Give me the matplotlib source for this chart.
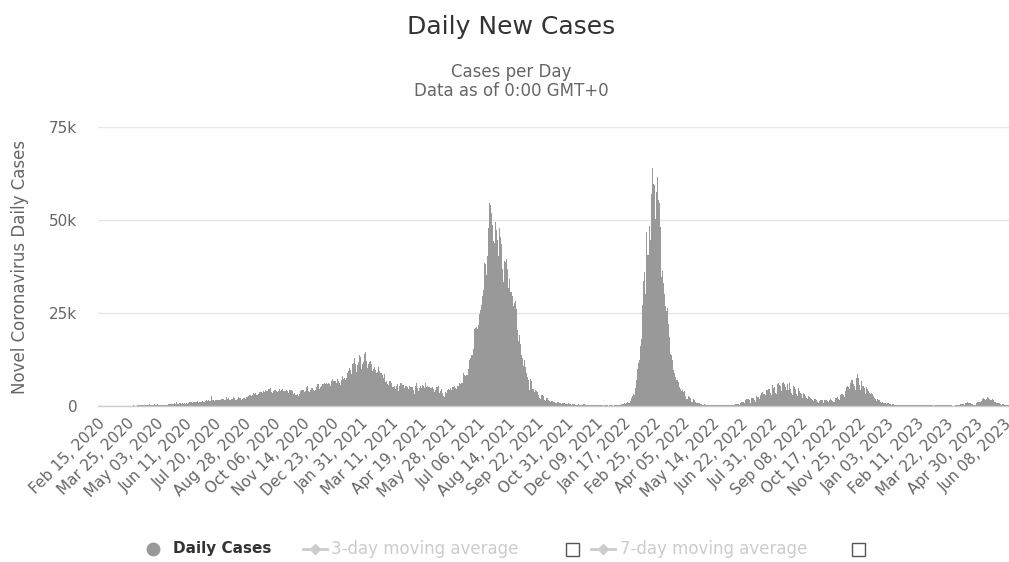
import matplotlib
matplotlib.use("Agg")
import matplotlib.pyplot as plt
import numpy as np
from matplotlib.lines import Line2D
from matplotlib.patches import Rectangle

# ---------------- data (daily new cases, thousands), categories start Feb 15, 2020 ----------------
start_date = "Feb 15, 2020"

cases_2020_k = (
    [0, 0, 0, 0, 0, 0, 0, 0, 0, 0, 0, 0, 0, 0, 0] +  # Feb 15-29
    [0, 0.002, 0, 0, 0, 0.002, 0, 0, 0.013, 0.008, 0.007, 0, 0.035, 0.027, 0.021, 0.017, 0.038, 0.055, 0.082, 0.06,
     0.081, 0.064, 0.065, 0.107, 0.104, 0.103, 0.153, 0.109, 0.13, 0.129, 0.114] +
    [0.15, 0.15, 0.2, 0.19, 0.18, 0.22, 0.25, 0.22, 0.34, 0.22, 0.33, 0.4, 0.4, 0.28, 0.3, 0.38, 0.41, 0.33, 0.33, 0.19,
     0.38, 0.28, 0.36, 0.44, 0.4, 0.28, 0.21, 0.41, 0.26, 0.35] +
    [0.43, 0.29, 0.29, 0.39, 0.48, 0.37, 0.34, 0.34, 0.53, 0.39, 0.23, 0.48, 0.69, 0.57, 0.49, 0.49, 0.49, 0.5, 0.49, 0.69,
     0.97, 0.63, 0.95, 0.53, 0.48, 0.42, 0.69, 0.69, 0.7, 0.56, 0.7] +
    [0.47, 0.47, 0.68, 0.59, 0.7, 0.99, 0.67, 0.85, 1.04, 1.24, 0.98, 1.11, 0.77, 0.85, 1.0, 1.11, 1.11, 1.33, 1.04, 1.23,
     0.86, 0.95, 1.05, 1.11, 1.18, 1.38, 1.38, 1.2, 1.08, 1.29] +
    [1.29, 1.62, 1.45, 1.49, 1.61, 1.21, 1.27, 1.85, 2.66, 1.61, 1.67, 1.68, 1.28, 1.59, 1.52, 1.57, 1.69, 1.52, 1.64, 1.69,
     1.65, 1.88, 1.91, 1.76, 1.87, 1.49, 1.53, 1.75, 2.38, 1.94, 2.04] +
    [1.56, 1.52, 1.68, 1.92, 1.82, 1.82, 2.47, 2.28, 1.89, 1.69, 1.69, 1.94, 2.1, 2.3, 2.08, 2.08, 1.82, 1.67, 1.95, 2.27,
     2.2, 2.1, 1.94, 2.5, 2.15, 2.3, 2.72, 3.0, 3.31, 2.86, 2.74] +
    [3.0, 3.08, 3.62, 3.27, 3.44, 3.44, 3.0, 3.05, 3.31, 3.86, 3.74, 3.8, 3.64, 3.14, 3.5, 3.96, 3.64, 3.89, 4.17, 4.0,
     3.99, 4.07, 4.46, 4.63, 4.82, 4.49, 3.87, 3.51, 4.0, 4.28] +
    [4.17, 4.3, 4.0, 3.99, 3.63, 4.06, 4.54, 4.85, 4.09, 4.29, 4.5, 3.27, 3.91, 4.13, 4.1, 4.3, 4.3, 4.1, 3.37, 3.6,
     4.27, 4.43, 4.37, 4.07, 3.93, 3.22, 3.52, 3.46, 3.0, 2.9, 3.14] +
    [2.7, 2.62, 3.1, 4.07, 4.06, 4.26, 4.26, 4.3, 3.88, 3.78, 3.9, 5.2, 5.44, 5.27, 4.1, 3.7, 3.8, 4.3, 4.8, 4.8,
     4.8, 4.4, 3.9, 4.2, 5.0, 5.1, 5.8, 6.0, 6.3, 4.6] +
    [5.1, 5.5, 8.37, 5.8, 6.0, 6.1, 5.8, 6.0, 6.1, 6.0, 6.4, 6.2, 5.9, 5.5, 6.1, 6.7, 7.35, 6.7, 6.3, 6.8,
     6.8, 6.3, 7.5, 7.2, 6.7, 6.2, 6.0, 5.7, 7.0, 8.0, 8.1]
)

cases_2021_k = (
    [7.2, 7.5, 6.9, 6.8, 7.4, 8.9, 9.3, 10.6, 10.1, 9.6, 8.7, 10.0, 11.3, 11.6, 12.8, 14.2, 11.3, 9.1, 11.0, 12.6,
     11.7, 13.6, 13.1, 11.8, 10.0, 11.2, 11.9, 13.7, 14.0, 14.5, 12.0] +
    [11.0, 10.2, 11.4, 11.9, 10.7, 12.2, 11.3, 9.5, 9.3, 10.0, 10.5, 9.8, 9.6, 8.9, 9.2, 10.6, 9.9, 9.4, 8.9, 9.0,
     7.9, 8.2, 7.5, 8.5, 7.0, 6.4, 6.6, 6.0] +
    [6.0, 5.7, 6.8, 6.6, 7.0, 6.3, 5.0, 5.1, 6.9, 5.4, 4.6, 5.3, 4.9, 5.8, 4.1, 5.4, 6.6, 6.3, 6.1, 5.7,
     4.9, 5.6, 4.9, 5.4, 5.6, 5.5, 5.1, 4.6, 5.0, 5.4, 5.2] +
    [5.0, 4.7, 5.1, 4.2, 3.3, 4.5, 5.3, 6.1, 4.8, 4.2, 4.1, 4.9, 5.5, 5.7, 4.9, 5.6, 5.4, 4.8, 4.8, 6.2,
     5.2, 5.6, 5.4, 5.1, 5.0, 4.0, 4.9, 4.8, 5.2, 5.4] +
    [4.5, 3.8, 4.4, 4.4, 5.1, 5.0, 5.3, 5.5, 3.6, 3.9, 4.6, 4.6, 3.4, 2.6, 2.4, 3.1, 3.7, 3.5, 4.2, 4.5,
     4.6, 4.2, 4.8, 3.6, 4.2, 5.1, 5.0, 5.4, 5.3, 4.8, 4.5] +
    [4.8, 5.3, 5.4, 6.1, 6.6, 5.8, 6.3, 6.3, 7.7, 8.9, 8.2, 8.1, 9.9, 8.2, 8.2, 9.9, 12.6, 12.3, 12.9, 13.7,
     14.5, 13.7, 15.3, 20.6, 18.9, 21.1, 21.3, 20.6, 20.5, 21.8] +
    [24.8, 25.8, 27.9, 27.2, 29.7, 31.2, 34.4, 38.4, 38.1, 35.1, 36.2, 40.4, 47.9, 54.5, 56.8, 54.0, 51.9, 48.7, 42.3, 44.3,
     43.8, 49.5, 49.1, 47.4, 44.7, 40.2, 47.2, 47.8, 45.5, 43.6, 41.3] +
    [36.7, 33.4, 38.9, 39.9, 38.8, 39.5, 36.8, 34.4, 31.7, 34.1, 30.6, 28.7, 30.6, 29.6, 26.8, 24.4, 27.7, 28.1, 26.0, 22.7,
     20.3, 17.4, 19.1, 18.7, 16.8, 13.8, 12.9, 11.7, 10.7, 12.3, 10.5] +
    [10.5, 8.8, 7.8, 7.0, 5.4, 4.4, 7.2, 6.6, 5.9, 4.7, 4.6, 3.7, 2.7, 4.2, 3.9, 3.8, 3.4, 3.0, 2.2, 1.9,
     2.7, 2.9, 3.0, 2.6, 2.3, 1.6, 1.4, 2.1, 1.9, 2.2] +
    [1.6, 1.4, 1.1, 1.0, 1.3, 1.4, 1.2, 1.1, 1.0, 0.8, 0.6, 0.9, 1.2, 1.0, 0.9, 0.75, 0.8, 0.6, 0.8, 0.9,
     0.8, 0.8, 0.7, 0.5, 0.5, 0.6, 0.7, 0.8, 0.6, 0.6, 0.4] +
    [0.4, 0.6, 0.6, 0.6, 0.5, 0.4, 0.3, 0.3, 0.4, 0.5, 0.4, 0.4, 0.4, 0.3, 0.2, 0.3, 0.45, 0.45, 0.4, 0.3,
     0.2, 0.2, 0.4, 0.45, 0.4, 0.35, 0.3, 0.2, 0.2, 0.3] +
    [0.3, 0.3, 0.25, 0.2, 0.2, 0.15, 0.2, 0.25, 0.2, 0.2, 0.2, 0.15, 0.1, 0.2, 0.2, 0.2, 0.15, 0.15, 0.15, 0.1,
     0.15, 0.2, 0.2, 0.25, 0.2, 0.15, 0.1, 0.2, 0.3, 0.3, 0.2]
)

cases_2022_k = (
    [0.17, 0.17, 0.27, 0.3, 0.4, 0.5, 0.5, 0.5, 0.53, 0.8, 0.8, 0.65, 0.8, 1.05, 1.0, 0.86, 0.77, 1.36, 1.75, 2.1,
     2.6, 3.2, 2.9, 2.9, 4.9, 7.0, 8.1, 9.9, 11.6, 12.4, 10.2] +
    [16.0, 17.9, 27.2, 32.2, 33.7, 36.1, 30.1, 37.5, 46.8, 40.6, 40.5, 55.2, 48.5, 44.5, 57.0, 64.7, 63.9, 59.6, 59.4, 55.5,
     50.4, 57.5, 61.5, 57.4, 55.4, 54.6, 48.1, 42.1] +
    [34.7, 36.4, 33.1, 31.0, 30.0, 27.0, 25.6, 30.1, 26.3, 22.0, 18.5, 16.9, 14.1, 13.7, 12.3, 11.0, 9.6, 8.8, 7.8, 7.6,
     7.0, 7.0, 6.5, 5.1, 5.0, 4.6, 3.9, 3.5, 4.4, 3.7, 3.9] +
    [3.6, 2.6, 2.0, 1.8, 2.9, 2.6, 2.5, 2.1, 1.7, 1.1, 1.0, 1.8, 1.8, 1.6, 1.1, 0.9, 0.8, 0.7, 0.9, 0.7,
     0.8, 0.5, 0.5, 0.4, 0.3, 0.3, 0.5, 0.4, 0.3, 0.2] +
    [0.16, 0.14, 0.17, 0.2, 0.3, 0.4, 0.5, 0.3, 0.25, 0.3, 0.4, 0.4, 0.3, 0.25, 0.2, 0.15, 0.25, 0.3, 0.25, 0.3,
     0.25, 0.2, 0.15, 0.25, 0.3, 0.3, 0.3, 0.25, 0.2, 0.2, 0.3] +
    [0.3, 0.4, 0.4, 0.4, 0.3, 0.3, 0.5, 0.6, 0.6, 0.6, 0.6, 0.5, 0.4, 0.9, 1.2, 1.3, 1.2, 1.1, 0.9, 0.6,
     1.5, 1.9, 2.0, 1.7, 1.9, 1.5, 0.9, 2.0, 2.2, 2.1] +
    [2.1, 2.2, 1.6, 1.2, 2.6, 2.8, 2.5, 2.4, 2.0, 1.8, 3.0, 3.4, 3.8, 3.5, 3.3, 3.3, 2.9, 4.3, 4.4, 4.3,
     4.5, 4.3, 4.5, 3.4, 3.0, 5.3, 5.7, 4.9, 5.2, 4.7, 3.6] +
    [3.1, 5.9, 6.4, 6.1, 5.6, 5.3, 4.9, 4.1, 6.3, 6.5, 6.0, 6.0, 5.2, 4.4, 3.4, 5.9, 4.4, 6.2, 5.3, 4.6,
     3.5, 2.9, 5.7, 5.5, 5.1, 4.7, 4.0, 3.2, 2.6, 4.8, 4.0] +
    [3.9, 3.5, 3.2, 2.7, 2.2, 3.5, 3.2, 2.8, 2.7, 2.2, 1.8, 1.6, 2.6, 2.5, 2.2, 2.2, 1.9, 1.7, 1.3, 1.7,
     2.0, 1.8, 1.7, 1.5, 1.2, 0.9, 1.4, 1.7, 1.6, 1.5] +
    [1.5, 1.2, 0.9, 1.5, 1.7, 1.6, 1.5, 1.3, 1.1, 0.9, 1.5, 1.8, 1.7, 1.6, 1.4, 1.1, 1.1, 1.8, 2.1, 2.1,
     2.3, 2.2, 1.8, 1.5, 2.9, 3.0, 3.2, 3.3, 3.0, 2.5, 2.3] +
    [4.0, 5.2, 5.3, 5.3, 5.0, 4.5, 4.0, 6.1, 6.9, 7.1, 6.5, 5.8, 5.4, 4.4, 6.9, 7.5, 8.5, 7.4, 6.6, 5.6,
     4.3, 6.7, 6.2, 5.4, 5.3, 4.8, 4.1, 3.2, 5.1, 4.7] +
    [4.3, 3.9, 3.6, 3.1, 2.4, 3.5, 3.3, 2.8, 2.4, 2.2, 1.8, 1.4, 2.0, 1.9, 1.6, 1.5, 1.3, 1.1, 0.8, 1.1,
     1.1, 0.9, 0.9, 0.7, 0.5, 0.6, 0.8, 0.7, 0.6, 0.5, 0.5]
)

cases_2023_k = (
    [0.4, 0.4, 0.5, 0.5, 0.4, 0.4, 0.35, 0.25, 0.3, 0.45, 0.4, 0.4, 0.35, 0.3, 0.2, 0.25, 0.35, 0.3, 0.3, 0.3,
     0.25, 0.2, 0.2, 0.3, 0.3, 0.3, 0.25, 0.2, 0.2, 0.25, 0.3] +
    [0.3, 0.25, 0.25, 0.2, 0.15, 0.2, 0.25, 0.3, 0.25, 0.2, 0.2, 0.15, 0.2, 0.25, 0.25, 0.2, 0.2, 0.15, 0.15, 0.2,
     0.2, 0.2, 0.2, 0.15, 0.15, 0.1, 0.2, 0.2] +
    [0.2, 0.2, 0.2, 0.15, 0.15, 0.2, 0.2, 0.25, 0.25, 0.2, 0.15, 0.15, 0.25, 0.2, 0.25, 0.2, 0.2, 0.15, 0.15, 0.25,
     0.25, 0.2, 0.15, 0.1, 0.1, 0.1, 0.2, 0.3, 0.3, 0.3, 0.35] +
    [0.4, 0.3, 0.5, 0.6, 0.6, 0.6, 0.5, 0.45, 0.4, 0.8, 0.9, 1.0, 1.0, 0.9, 0.8, 0.6, 0.7, 0.6, 0.5, 0.4,
     0.3, 0.3, 0.2, 0.5, 0.9, 1.0, 1.2, 1.3, 1.2, 1.0] +
    [1.4, 1.9, 2.0, 2.1, 1.9, 1.7, 1.5, 2.0, 2.5, 2.3, 2.2, 2.0, 1.6, 1.2, 1.5, 1.8, 1.6, 1.4, 1.2, 1.0,
     0.8, 0.9, 0.8, 0.7, 0.7, 0.6, 0.5, 0.4, 0.6, 0.5, 0.5] +
    [0.4, 0.4, 0.3, 0.2, 0.2, 0.3, 0.3]
)

tick_step = 39
tick_labels = ["Feb 15, 2020", "Mar 25, 2020", "May 03, 2020", "Jun 11, 2020", "Jul 20, 2020",
               "Aug 28, 2020", "Oct 06, 2020", "Nov 14, 2020", "Dec 23, 2020", "Jan 31, 2021",
               "Mar 11, 2021", "Apr 19, 2021", "May 28, 2021", "Jul 06, 2021", "Aug 14, 2021",
               "Sep 22, 2021", "Oct 31, 2021", "Dec 09, 2021", "Jan 17, 2022", "Feb 25, 2022",
               "Apr 05, 2022", "May 14, 2022", "Jun 22, 2022", "Jul 31, 2022", "Sep 08, 2022",
               "Oct 17, 2022", "Nov 25, 2022", "Jan 03, 2023", "Feb 11, 2023", "Mar 22, 2023",
               "Apr 30, 2023", "Jun 08, 2023"]
y_ticks = [0, 25000, 50000, 75000]
y_tick_labels = ["0", "25k", "50k", "75k"]

# ---------------- figure ----------------
daily_cases = np.array(cases_2020_k + cases_2021_k + cases_2022_k + cases_2023_k) * 1000.0
xpos = np.arange(len(daily_cases))

W, H = 1009, 562
fig = plt.figure(figsize=(W / 100, H / 100), dpi=100)


def fx(px):
    return px / W


def fy(py):
    return 1 - py / H


ax = fig.add_axes([fx(98), fy(406), (1011 - 98) / W, (406 - 127) / H])
ax.bar(xpos, daily_cases, width=1.0, color="#999999", linewidth=0)
ax.set_xlim(-6.67, 1210.5)
ax.set_ylim(0, 75000)

ax.set_yticks(y_ticks)
ax.set_yticklabels(y_tick_labels)
ax.yaxis.grid(True, color="#e6e6e6", linewidth=1)
ax.set_axisbelow(True)
for s in ["top", "right", "left"]:
    ax.spines[s].set_visible(False)
ax.spines["bottom"].set_color("#cccccc")
ax.spines["bottom"].set_linewidth(1)
ax.tick_params(axis="y", length=0, pad=15, labelsize=11, labelcolor="#666666")

ax.set_xticks(np.arange(len(tick_labels)) * tick_step)
ax.set_xticklabels(tick_labels, rotation=45, ha="right", va="center", rotation_mode="anchor")
ax.tick_params(axis="x", length=0, pad=11, labelsize=11, labelcolor="#666666")

# titles
fig.text(fx(511), fy(27), "Daily New Cases", ha="center", va="center", fontsize=18, color="#333333")
fig.text(fx(511), fy(72), "Cases per Day", ha="center", va="center", fontsize=12, color="#666666")
fig.text(fx(511), fy(91), "Data as of 0:00 GMT+0", ha="center", va="center", fontsize=12, color="#666666")
fig.text(fx(20), fy(267), "Novel Coronavirus Daily Cases", ha="center", va="center", rotation=90,
         fontsize=12, color="#666666")

# legend
ly = fy(549)
fig.add_artist(Line2D([fx(153)], [ly], marker="o", markersize=9, color="#999999", linestyle="none"))
fig.text(fx(173), ly, "Daily Cases", ha="left", va="center", fontsize=11, fontweight="bold", color="#333333")

fig.add_artist(Line2D([fx(303), fx(327)], [ly, ly], color="#cccccc", linewidth=2))
fig.add_artist(Line2D([fx(315)], [ly], marker="D", markersize=5, color="#cccccc", linestyle="none"))
fig.text(fx(331), ly, "3-day moving average", ha="left", va="center", fontsize=12, color="#cccccc")
fig.add_artist(Rectangle((fx(566), fy(556)), 13 / W, 13 / H, facecolor="white", edgecolor="#555555",
                         linewidth=1, transform=fig.transFigure))

fig.add_artist(Line2D([fx(591), fx(615)], [ly, ly], color="#cccccc", linewidth=2))
fig.add_artist(Line2D([fx(603)], [ly], marker="D", markersize=5, color="#cccccc", linestyle="none"))
fig.text(fx(620), ly, "7-day moving average", ha="left", va="center", fontsize=12, color="#cccccc")
fig.add_artist(Rectangle((fx(852), fy(556)), 13 / W, 13 / H, facecolor="white", edgecolor="#555555",
                         linewidth=1, transform=fig.transFigure))

fig.savefig("out.png", dpi=100)
